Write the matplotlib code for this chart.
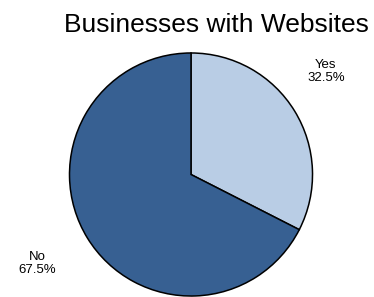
import matplotlib.pyplot as plt

labels = ["Yes", "No"]
shares = [32.5, 67.5]
colors = ["#b9cde5", "#376092"]

plt.rcParams['font.family'] = ['Liberation Sans', 'DejaVu Sans']

fig = plt.figure(figsize=(3.74, 2.97), dpi=100)
ax = fig.add_axes([0, 0, 1, 1])

wedges, texts = ax.pie(
    shares,
    labels=[f"{l}\n{v:.1f}%" for l, v in zip(labels, shares)],
    colors=colors,
    startangle=90,
    counterclock=False,
    labeldistance=1.42,
    wedgeprops=dict(edgecolor="black", linewidth=1.1),
    textprops=dict(fontsize=9.5, ha="center", va="center", linespacing=1.15),
)

# nudge labels to where the reference puts them
nudges = [(-0.10, 0.107), (-0.058, 0.008)]
for t, (dx, dy) in zip(texts, nudges):
    x, y = t.get_position()
    t.set_position((x + dx, y + dy))

# place the pie like the reference (center ~ (191,174) px, radius ~121 px)
ax.set_xlim(-1.572, 1.506)
ax.set_ylim(-1.008, 1.436)
ax.set_aspect('auto')
ax.axis('off')

fig.text(0.578, 0.892, "Businesses with Websites", fontsize=19,
         ha="center", va="baseline")

fig.savefig("out.png", dpi=100)
